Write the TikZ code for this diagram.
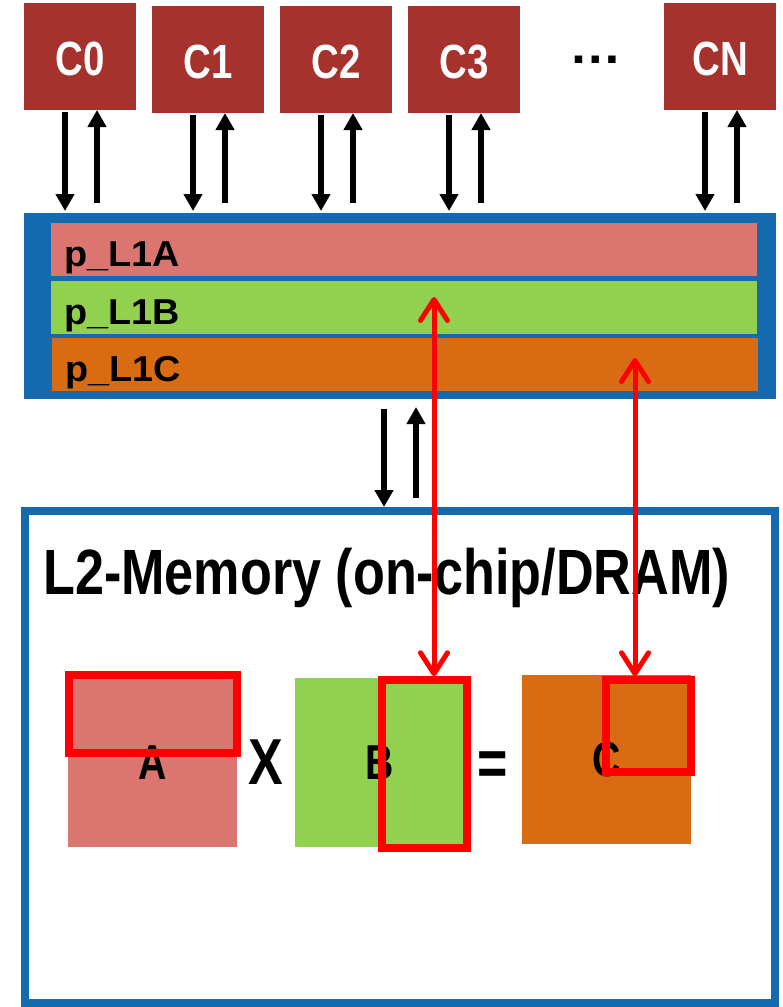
\documentclass[tikz,border=0pt]{standalone}
\usepackage{fontspec}
\setmainfont{Liberation Sans}
\newfontfamily\narrowsans{Liberation Sans}[FakeStretch=0.80]
\newfontfamily\titlesans{Liberation Sans}[FakeStretch=0.815]
\newfontfamily\widesans{Liberation Sans}[FakeStretch=1.05]
\usepackage{tikz}
\usetikzlibrary{arrows.meta, positioning, calc}
\definecolor{CoreRed}{RGB}{166,50,46}
\definecolor{CacheBlue}{RGB}{21,106,175}
\definecolor{TileA}{RGB}{218,117,112}
\definecolor{TileB}{RGB}{146,208,80}
\definecolor{TileC}{RGB}{217,108,18}

\tikzset{
  core/.style={fill=CoreRed, text=white, minimum width=112pt, minimum height=107pt,
    inner sep=0pt, outer sep=0pt, text height=38pt, text depth=0pt,
    font=\narrowsans\bfseries\fontsize{48}{50}\selectfont},
  bar/.style={minimum width=706pt, minimum height=53pt, inner sep=0pt, outer sep=0pt},
  barlabel/.style={anchor=base west, inner sep=0pt, font=\widesans\bfseries\fontsize{36}{40}\selectfont},
  tile/.style={minimum width=169pt, minimum height=169pt, inner sep=0pt, outer sep=0pt,
    font=\narrowsans\bfseries\fontsize{49}{50}\selectfont},
  opsign/.style={inner sep=0pt, font=\narrowsans\bfseries\fontsize{65}{70}\selectfont},
  block/.style={draw=red, line width=7.5pt, inner sep=0pt},
  busarrow/.style={line width=5.5pt, -{Triangle[width=18pt,length=17pt]}},
  blockarrow/.style={draw=red, line width=5pt,
    {Straight Barb[width=27pt,length=21pt,round]}-{Straight Barb[width=27pt,length=21pt,round]}},
}

\begin{document}
\begin{tikzpicture}[x=1pt, y=-1pt]
  \useasboundingbox (0,0) rectangle (783,1007);

  \foreach \i/\y in {0/56.5,1/59.5,2/59.5,3/59.5}
    \node[core] (c\i) at (80+128*\i,\y) {C\i};
  \node[anchor=base, font=\widesans\bfseries\fontsize{50}{50}\selectfont] (dots) at (596,63) {\ldots};
  \node[core] (cn) at (720,56.5) {CN};

  \node[fill=CacheBlue, minimum width=752pt, minimum height=186pt, inner sep=0pt, outer sep=0pt] (l1) at (400,306) {};
  \node[bar, fill=TileA] (l1a) at (404,249.5) {};
  \node[bar, fill=TileB, below=5pt of l1a] (l1b) {};
  \node[bar, fill=TileC, below=4pt of l1b, xshift=1pt] (l1c) {};
  \foreach \bx/\tx in {l1a/A,l1b/B,l1c/C}
    \node[barlabel] at ([xshift=13pt,yshift=-17pt]\bx.west) {p\_L1\tx};

  \foreach \c in {c0,c1,c2,c3,cn} {
    \draw[busarrow] ([xshift=-15pt,yshift=-2pt]\c.south) -- ([xshift=-15pt,yshift=2pt]\c.south |- l1.north);
    \draw[busarrow] ([xshift=17pt,yshift=10pt]\c.south |- l1.north) -- ([xshift=17pt]\c.south);
  }

  \node[draw=CacheBlue, line width=8pt, minimum width=750pt, minimum height=492pt, inner sep=0pt] (l2) at (400,757) {};
  \node[anchor=base west, inner sep=0pt, font=\titlesans\bfseries\fontsize{64}{70}\selectfont] (l2title) at (43,594) {L2-Memory (on-chip/DRAM)};
  \draw[busarrow] ([xshift=-16pt,yshift=-10pt]l1.south) -- ([xshift=-16pt]l1.south |- l2.north);
  \draw[busarrow] ([xshift=16pt,yshift=9pt]l1.south |- l2.north) -- ([xshift=16pt,yshift=-8pt]l1.south);

  \node[tile, fill=TileA] (ta) at (152.5,762.5) {A};
  \node[tile, fill=TileB, right=58pt of ta] (tb) {B};
  \node[tile, fill=TileC, right=58pt of tb, yshift=3pt] (tc) {C};
  \node[opsign] (times) at ($(ta.east)!0.5!(tb.west)$) {X};
  \node[opsign, yshift=-8pt] (equals) at ($(tb.east)!0.5!(tc.west)$) {=};

  \node[block, minimum width=168pt, minimum height=78pt] (blka) at (153,714) {};
  \node[block, minimum width=85pt, minimum height=168pt] (blkb) at (424.5,764) {};
  \node[block, minimum width=85pt, minimum height=92pt] (blkc) at (648.5,726) {};

  \coordinate (hitb) at (434,297);
  \coordinate (hitc) at (635,358);
  \draw[blockarrow] (hitb) -- (hitb |- blkb.north);
  \draw[blockarrow] (hitc) -- (hitc |- blkc.north);
\end{tikzpicture}
\end{document}
